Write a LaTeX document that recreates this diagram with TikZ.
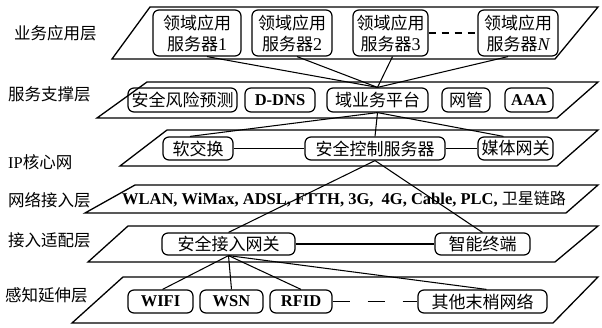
\documentclass[tikz,border=0pt]{standalone}
\usepackage{fontspec}
\setmainfont{Liberation Serif}
\newfontfamily\cjk{Noto Sans CJK SC}
\begin{document}
\begin{tikzpicture}[x=1pt,y=-1pt,
  layer/.style={draw,line width=1.3pt,line join=miter},
  bx/.style={draw,rounded corners=6pt,line width=1.2pt,inner sep=0pt,align=center,
    font=\cjk\fontsize{17}{21}\selectfont},
  lat/.style={font=\rmfamily\bfseries\fontsize{16.5}{18}\selectfont},
  lbl/.style={anchor=west,inner sep=0pt,font=\cjk\fontsize{16.5}{20}\selectfont},
  conn/.style={line width=1.05pt}]
\useasboundingbox (0,0) rectangle (602,327);
% layers
\draw[layer] (150,7) -- (598,7) -- (555,59) -- (112,59) -- cycle;
\draw[layer] (147,82) -- (598,82) -- (557,118) -- (97,118) -- cycle;
\draw[layer] (167,130) -- (598,130) -- (557,166) -- (120,166) -- cycle;
\draw[layer] (135,185) -- (598,185) -- (566,213) -- (85,213) -- cycle;
\draw[layer] (128,226) -- (598,226) -- (555,262) -- (88,262) -- cycle;
\draw[layer] (123,277) -- (598,277) -- (553,323) -- (72,323) -- cycle;
% left labels
\node[lbl] (t1) at (14,33) {业务应用层};
\node[lbl] (t2) at (8,94) {服务支撑层};
\node[lbl] (t3) at (8,162) {{\rmfamily IP}核心网};
\node[lbl] (t4) at (8,200) {网络接入层};
\node[lbl] (t5) at (8,240) {接入适配层};
\node[lbl] (t6) at (5,295) {感知延伸层};
% layer 1
\node[bx,minimum width=88pt,minimum height=46pt] (b1) at (197,33) {领域应用\\服务器{\rmfamily\fontsize{18}{21}\selectfont 1}};
\node[bx,minimum width=80pt,minimum height=46pt] (b2) at (292,33) {领域应用\\服务器{\rmfamily\fontsize{18}{21}\selectfont 2}};
\node[bx,minimum width=75pt,minimum height=46pt] (b3) at (390.5,33) {领域应用\\服务器{\rmfamily\fontsize{18}{21}\selectfont 3}};
\node[bx,minimum width=80pt,minimum height=46pt] (bn) at (518,33) {领域应用\\服务器{\rmfamily\itshape\fontsize{18}{21}\selectfont N}};
% layer 2
\node[bx,minimum width=109pt,minimum height=24pt] (s1) at (182.5,100) {安全风险预测};
\node[bx,lat,minimum width=70pt,minimum height=24pt] (s2) at (280,100) {D-DNS};
\node[bx,minimum width=101pt,minimum height=24pt] (s3) at (377.5,100) {域业务平台};
\node[bx,minimum width=48pt,minimum height=24pt] (s4) at (466,100) {网管};
\node[bx,lat,minimum width=48pt,minimum height=24pt] (s5) at (529,100) {AAA};
% layer 3
\node[bx,minimum width=70pt,minimum height=23pt] (c1) at (198,148.5) {软交换};
\node[bx,minimum width=140pt,minimum height=23pt] (c2) at (375,148.5) {安全控制服务器};
\node[bx,minimum width=75pt,minimum height=23pt] (c3) at (515.5,148.5) {媒体网关};
% layer 4
\node[inner sep=0pt,lat] (n1) at (344,199) {WLAN, WiMax, ADSL, FTTH, 3G,~~4G, Cable, PLC, {\cjk\mdseries\fontsize{16}{18}\selectfont 卫星链路}};
% layer 5
\node[bx,minimum width=133pt,minimum height=22pt] (a1) at (228.5,244) {安全接入网关};
\node[bx,minimum width=95pt,minimum height=22pt] (a2) at (482.5,244) {智能终端};
% layer 6
\node[bx,lat,minimum width=65pt,minimum height=23pt] (p1) at (160.5,301.5) {WIFI};
\node[bx,lat,minimum width=63pt,minimum height=23pt] (p2) at (231.5,301.5) {WSN};
\node[bx,lat,minimum width=62pt,minimum height=23pt] (p3) at (301,301.5) {RFID};
\node[bx,minimum width=129pt,minimum height=23pt] (p4) at (482.5,301.5) {其他末梢网络};
% connectors
\draw[conn,dash pattern=on 7pt off 6pt] (b3.east) -- (bn.west);
\draw[conn] ([xshift=10pt]b1.south) -- (s3.north);
\draw[conn] ([xshift=5pt]b2.south) -- (s3.north);
\draw[conn] ([xshift=2pt]b3.south) -- (s3.north);
\draw[conn] ([xshift=-10pt]bn.south) -- (s3.north);
\draw[conn] (s3.south) -- ([xshift=-8pt]c1.north);
\draw[conn] (s3.south) -- (c2.north);
\draw[conn] (s3.south) -- ([xshift=-12pt]c3.north);
\draw[conn] (c1.east) -- (c2.west);
\draw[conn] (c2.east) -- (c3.west);
\draw[conn] (c2.south) -- (a1.north);
\draw[conn] (c2.south) -- (a2.north);
\draw[conn] (a1.east) -- (a2.west);
\draw[conn] (a1.south) -- ([xshift=2pt]p1.north);
\draw[conn] (a1.south) -- (p2.north);
\draw[conn] (a1.south) -- (p3.north);
\draw[conn] (a1.south) -- ([xshift=4pt]p4.north);
\draw[conn,dash pattern=on 17pt off 18pt] (p3.east) -- (p4.west);
\end{tikzpicture}
\end{document}
